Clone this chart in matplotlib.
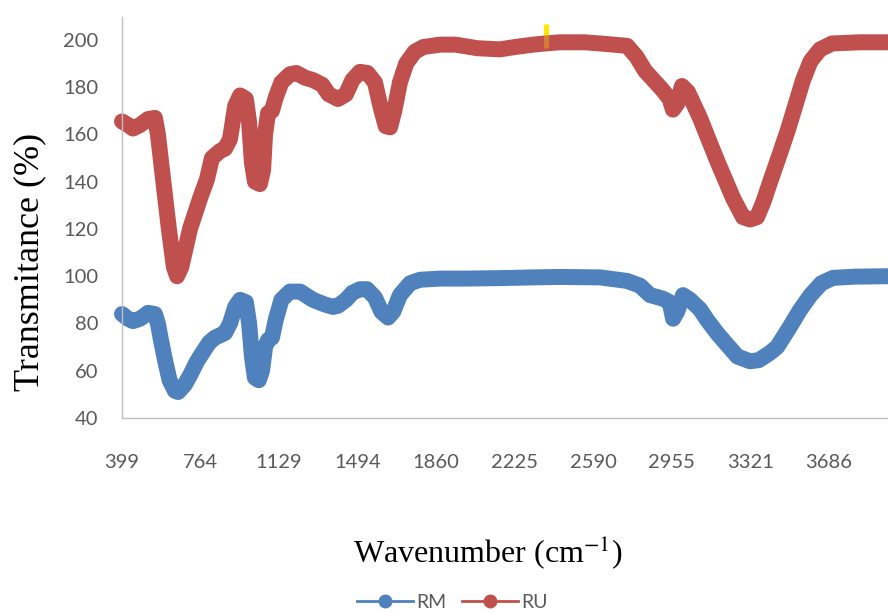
import matplotlib
matplotlib.use("Agg")
import matplotlib.pyplot as plt
import numpy as np

# FTIR spectra, transmittance (%) against wavenumber (cm-1)
wn_ru = [399, 427, 450, 483, 520, 552, 566, 590, 617, 640, 655, 675, 715, 762, 794,
         817, 855, 878, 901, 925, 948, 975, 990, 1003, 1017, 1040, 1055, 1064, 1078,
         1096, 1115, 1140, 1180, 1210, 1250, 1287, 1330, 1360, 1403, 1440, 1470, 1505,
         1540, 1575, 1600, 1625, 1645, 1665, 1691, 1720, 1760, 1800, 1877, 1950, 2050,
         2156, 2226, 2310, 2366, 2435, 2550, 2621, 2747, 2790, 2830, 2870, 2910, 2945,
         2960, 2980, 3002, 3030, 3086, 3165, 3240, 3286, 3319, 3351, 3379, 3416, 3458,
         3495, 3565, 3600, 3644, 3700, 3830, 3960]
t_ru = [165.5, 164, 162.5, 164, 166.5, 167, 160, 141, 120, 104, 100, 104, 120, 133, 141,
        150, 153, 154, 158, 172, 176.5, 175, 165, 148, 140, 139, 145, 160, 169,
        170, 176, 182, 185.5, 186, 184, 183, 181, 177, 175, 177, 183, 186.5,
        186, 182, 172, 163.5, 163, 170, 182, 190, 195, 197, 198, 198, 196.5,
        196, 197, 198, 198.5, 199, 199, 198.5, 197.5, 193, 187, 183, 179, 175,
        170.5, 173, 180.5, 178, 167, 149, 133, 125, 124, 125, 131, 141, 152,
        162, 183, 191, 196, 198.5, 199, 199]

wn_rm = [399, 427, 450, 483, 520, 552, 566, 580, 599, 620, 645, 660, 690, 715, 748,
         776, 805, 831, 855, 878, 901, 925, 948, 975, 990, 1003, 1017, 1035, 1050,
         1064, 1078, 1096, 1115, 1140, 1180, 1227, 1287, 1343, 1380, 1403, 1440, 1470,
         1505, 1538, 1575, 1605, 1636, 1660, 1691, 1738, 1784, 1877, 2000, 2156, 2310,
         2435, 2621, 2747, 2807, 2854, 2914, 2945, 2961, 2980, 3007, 3040, 3086, 3119,
         3165, 3212, 3260, 3319, 3360, 3410, 3444, 3500, 3551, 3600, 3650, 3704, 3800,
         3960]
t_rm = [84, 82, 81, 82, 84.5, 84, 80, 73, 64.5, 56, 51.5, 51, 54, 58, 64,
        68, 72, 74, 75, 76, 80, 87, 90, 89, 80, 66, 57, 56, 60,
        70, 73, 74, 82, 90, 93.5, 93.5, 90, 88, 87, 87.5, 90, 93,
        94.5, 94.5, 91, 85, 82.5, 85, 92, 97, 98.5, 99, 99, 99.2, 99.5,
        99.7, 99.5, 98, 96, 92, 90.5, 89, 82, 85, 92, 90, 86, 81.5,
        76, 71, 66, 64, 64.5, 67.5, 70, 78, 85.7, 92, 97, 99.3, 99.8,
        100]

x_ticks = [399, 764, 1129, 1494, 1860, 2225, 2590, 2955, 3321, 3686]
y_ticks = [40, 60, 80, 100, 120, 140, 160, 180, 200]

# small yellow mark near 2368 cm-1
mark_wn = 2368
mark_range = [196.6, 206.8]

blue = '#4F81BD'
red = '#C0504D'
grey = '#595959'

fig = plt.figure(figsize=(8.88, 6.13), dpi=100)
ax = fig.add_axes([122 / 888, 1 - 418 / 613, 766 / 888, 401 / 613])

line_kw = dict(lw=11.5, solid_capstyle='round', solid_joinstyle='round', clip_on=False)
ax.plot(wn_rm, t_rm, color=blue, label='RM', **line_kw)
ax.plot(mark_wn * np.ones(2), mark_range, color='#FFE800', lw=3.6,
        solid_capstyle='butt', zorder=1)
ax.plot(wn_ru, t_ru, color=red, label='RU', zorder=2, **line_kw)
ax.plot(mark_wn * np.ones(2), mark_range, color='#FFE800', lw=3.6, alpha=0.3,
        solid_capstyle='butt', zorder=3)

ax.set_xlim(399, 3960)
ax.set_ylim(40, 209.7)
ax.set_xticks(x_ticks)
ax.set_xticklabels([str(v) for v in x_ticks])
ax.set_yticks(y_ticks)
ax.tick_params(axis='both', length=0, labelsize=14.5, labelcolor=grey)
ax.tick_params(axis='x', pad=26)
ax.tick_params(axis='y', pad=17)
for lab in ax.get_xticklabels() + ax.get_yticklabels():
    lab.set_family('Lato')

for s in ['top', 'right']:
    ax.spines[s].set_visible(False)
for s in ['left', 'bottom']:
    ax.spines[s].set_color('#BFBFBF')
    ax.spines[s].set_linewidth(1.0)

plt.rcParams['mathtext.fontset'] = 'stix'
fig.text(30 / 888, 1 - 262 / 613, 'Transmitance (%)', rotation=90, ha='center',
         va='center', family='Liberation Serif', fontsize=26, color='black')
fig.text(488 / 888, 1 - 552 / 613, 'Wavenumber (cm$^{-1}$)', ha='center',
         va='center', family='Liberation Serif', fontsize=23, color='black')

# legend with line + circle marker handles
h_rm = plt.Line2D([], [], color=blue, lw=2, marker='o', markersize=9)
h_ru = plt.Line2D([], [], color=red, lw=2, marker='o', markersize=9)
leg = fig.legend([h_rm, h_ru], ['RM', 'RU'], loc='center', ncol=2,
                 bbox_to_anchor=(452 / 888, 1 - 602 / 613), frameon=False,
                 handlelength=2.9, handletextpad=0.15, columnspacing=0.8,
                 prop={'family': 'Lato', 'size': 14})
for t in leg.get_texts():
    t.set_color(grey)

fig.savefig('out.png', dpi=100)
